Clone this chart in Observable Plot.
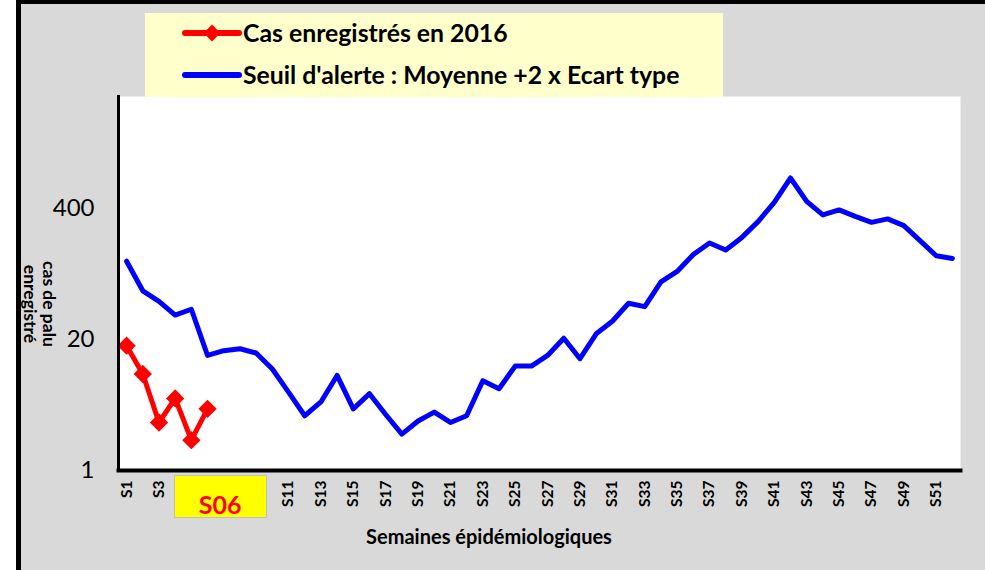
<!DOCTYPE html>
<html><head><meta charset="utf-8">
<script src="https://cdn.jsdelivr.net/npm/d3@7"></script>
<script src="https://cdn.jsdelivr.net/npm/@observablehq/plot@0.6"></script>
<style>
html,body{margin:0;padding:0;background:#fff;}
#wrap{position:relative;width:985px;height:570px;overflow:hidden;font-family:Lato,"Open Sans",sans-serif;}
#frame{position:absolute;left:16px;top:0;width:965px;height:566px;background:#D9D9D9;border-left:5px solid #000;border-top:4px solid #000;border-right:2px solid #000;border-bottom:2px solid #A6A6A6;box-sizing:content-box;}
#chart{position:absolute;left:0;top:0;}
#legend{position:absolute;left:145px;top:13px;width:578px;height:84px;background:#FFFFCC;}
.leg{position:absolute;left:98px;font-weight:bold;font-size:24.8px;color:#000;white-space:nowrap;line-height:1;}
.sw{position:absolute;left:36px;}
#ytitle{position:absolute;left:40px;top:304px;transform:translate(-50%,-50%) rotate(90deg);font-weight:bold;font-size:17.5px;line-height:19px;text-align:center;white-space:nowrap;color:#000;}
#xtitle{position:absolute;left:489px;top:536px;transform:translate(-50%,-50%);font-weight:bold;font-size:20px;white-space:nowrap;color:#000;}
#s06{position:absolute;top:475px;width:93px;height:43px;background:#FFFF00;border:1.5px solid #BFBFBF;box-sizing:border-box;color:#FF0000;font-weight:bold;font-size:25px;text-align:center;line-height:56px;}
</style></head>
<body>
<div id="wrap">
  <div id="frame"></div>
  <div id="chart"></div>
  <div id="legend">
    <svg class="sw" width="64" height="84" style="top:0">
      <line x1="4" y1="20" x2="58" y2="20" stroke="#FF0000" stroke-width="6" stroke-linecap="round"/>
      <rect x="-6" y="-6" width="12" height="12" fill="#FF0000" transform="translate(31,20) rotate(45)"/>
      <line x1="4" y1="62" x2="58" y2="62" stroke="#0000FF" stroke-width="6" stroke-linecap="round"/>
    </svg>
    <div class="leg" style="top:8px">Cas enregistrés en 2016</div>
    <div class="leg" style="top:50px">Seuil d'alerte : Moyenne +2 x Ecart type</div>
  </div>
  <div id="ytitle">cas de palu<br>enregistré</div>
  <div id="xtitle">Semaines épidémiologiques</div>
  <div id="s06">S06</div>
</div>
<script>
const weeks = ["S1","S2","S3","S4","S5","S6","S7","S8","S9","S10","S11","S12","S13","S14","S15","S16","S17","S18","S19","S20","S21","S22","S23","S24","S25","S26","S27","S28","S29","S30","S31","S32","S33","S34","S35","S36","S37","S38","S39","S40","S41","S42","S43","S44","S45","S46","S47","S48","S49","S50","S51","S52"];
const tickWeeks = ["S1","S3","S5","S7","S9","S11","S13","S15","S17","S19","S21","S23","S25","S27","S29","S31","S33","S35","S37","S39","S41","S43","S45","S47","S49","S51"];
const seuil = [120,61,48,35,40,13.9,15.5,16.2,14.7,10.2,6.0,3.5,4.8,8.8,4.1,5.8,3.6,2.3,3.1,3.8,3.0,3.5,7.8,6.5,10.9,10.9,13.9,20.6,12.9,22.8,30.4,45.9,42.5,75,95,140,182,155,207,297,462,806,472,346,388,335,292,316,271,192,136,128];
const casWeeks = ["S1","S2","S3","S4","S5","S6"];
const cas2016 = [17.4,9.1,3.0,5.2,2.0,4.1];
const yTicks = [1,20,400];

const seuilData = weeks.map((w,i)=>({week:w, value:seuil[i]}));
const casData = casWeeks.map((w,i)=>({week:w, value:cas2016[i]}));

const chart = Plot.plot({
  width:985, height:570,
  marginLeft:118, marginRight:25, marginTop:96, marginBottom:100,
  style:{background:"transparent", color:"#000", fontFamily:"Lato, 'Open Sans', sans-serif"},
  x:{type:"point", domain:weeks, padding:0.5, round:false},
  y:{type:"log", domain:[1,5200], axis:null},
  marks:[
    Plot.frame({fill:"white", stroke:null}),
    Plot.text(yTicks, {y:d=>d, text:d=>String(d), frameAnchor:"left", dx:-24, textAnchor:"end", fontSize:24, fill:"#000"}),
    Plot.axisX({ticks:tickWeeks, tickSize:0, tickPadding:10, tickRotate:-90, fontSize:15.5, fontWeight:"bold", label:null}),
    Plot.line(seuilData,{x:"week", y:"value", stroke:"#0000FF", strokeWidth:5, strokeLinecap:"round", strokeLinejoin:"round"}),
    Plot.line(casData,{x:"week", y:"value", stroke:"#FF0000", strokeWidth:5, strokeLinejoin:"round"}),
    Plot.dot(casData,{x:"week", y:"value", symbol:"square", r:7.3, fill:"#FF0000", rotate:45}),
    Plot.frame({anchor:"left", stroke:"#000", strokeWidth:3}),
    Plot.frame({anchor:"bottom", stroke:"#000", strokeWidth:4})
  ]
});
document.getElementById("chart").appendChild(chart);
const xs = chart.scale("x");
document.getElementById("s06").style.left = (xs.apply("S4") - 1) + "px";
</script>
</body></html>
